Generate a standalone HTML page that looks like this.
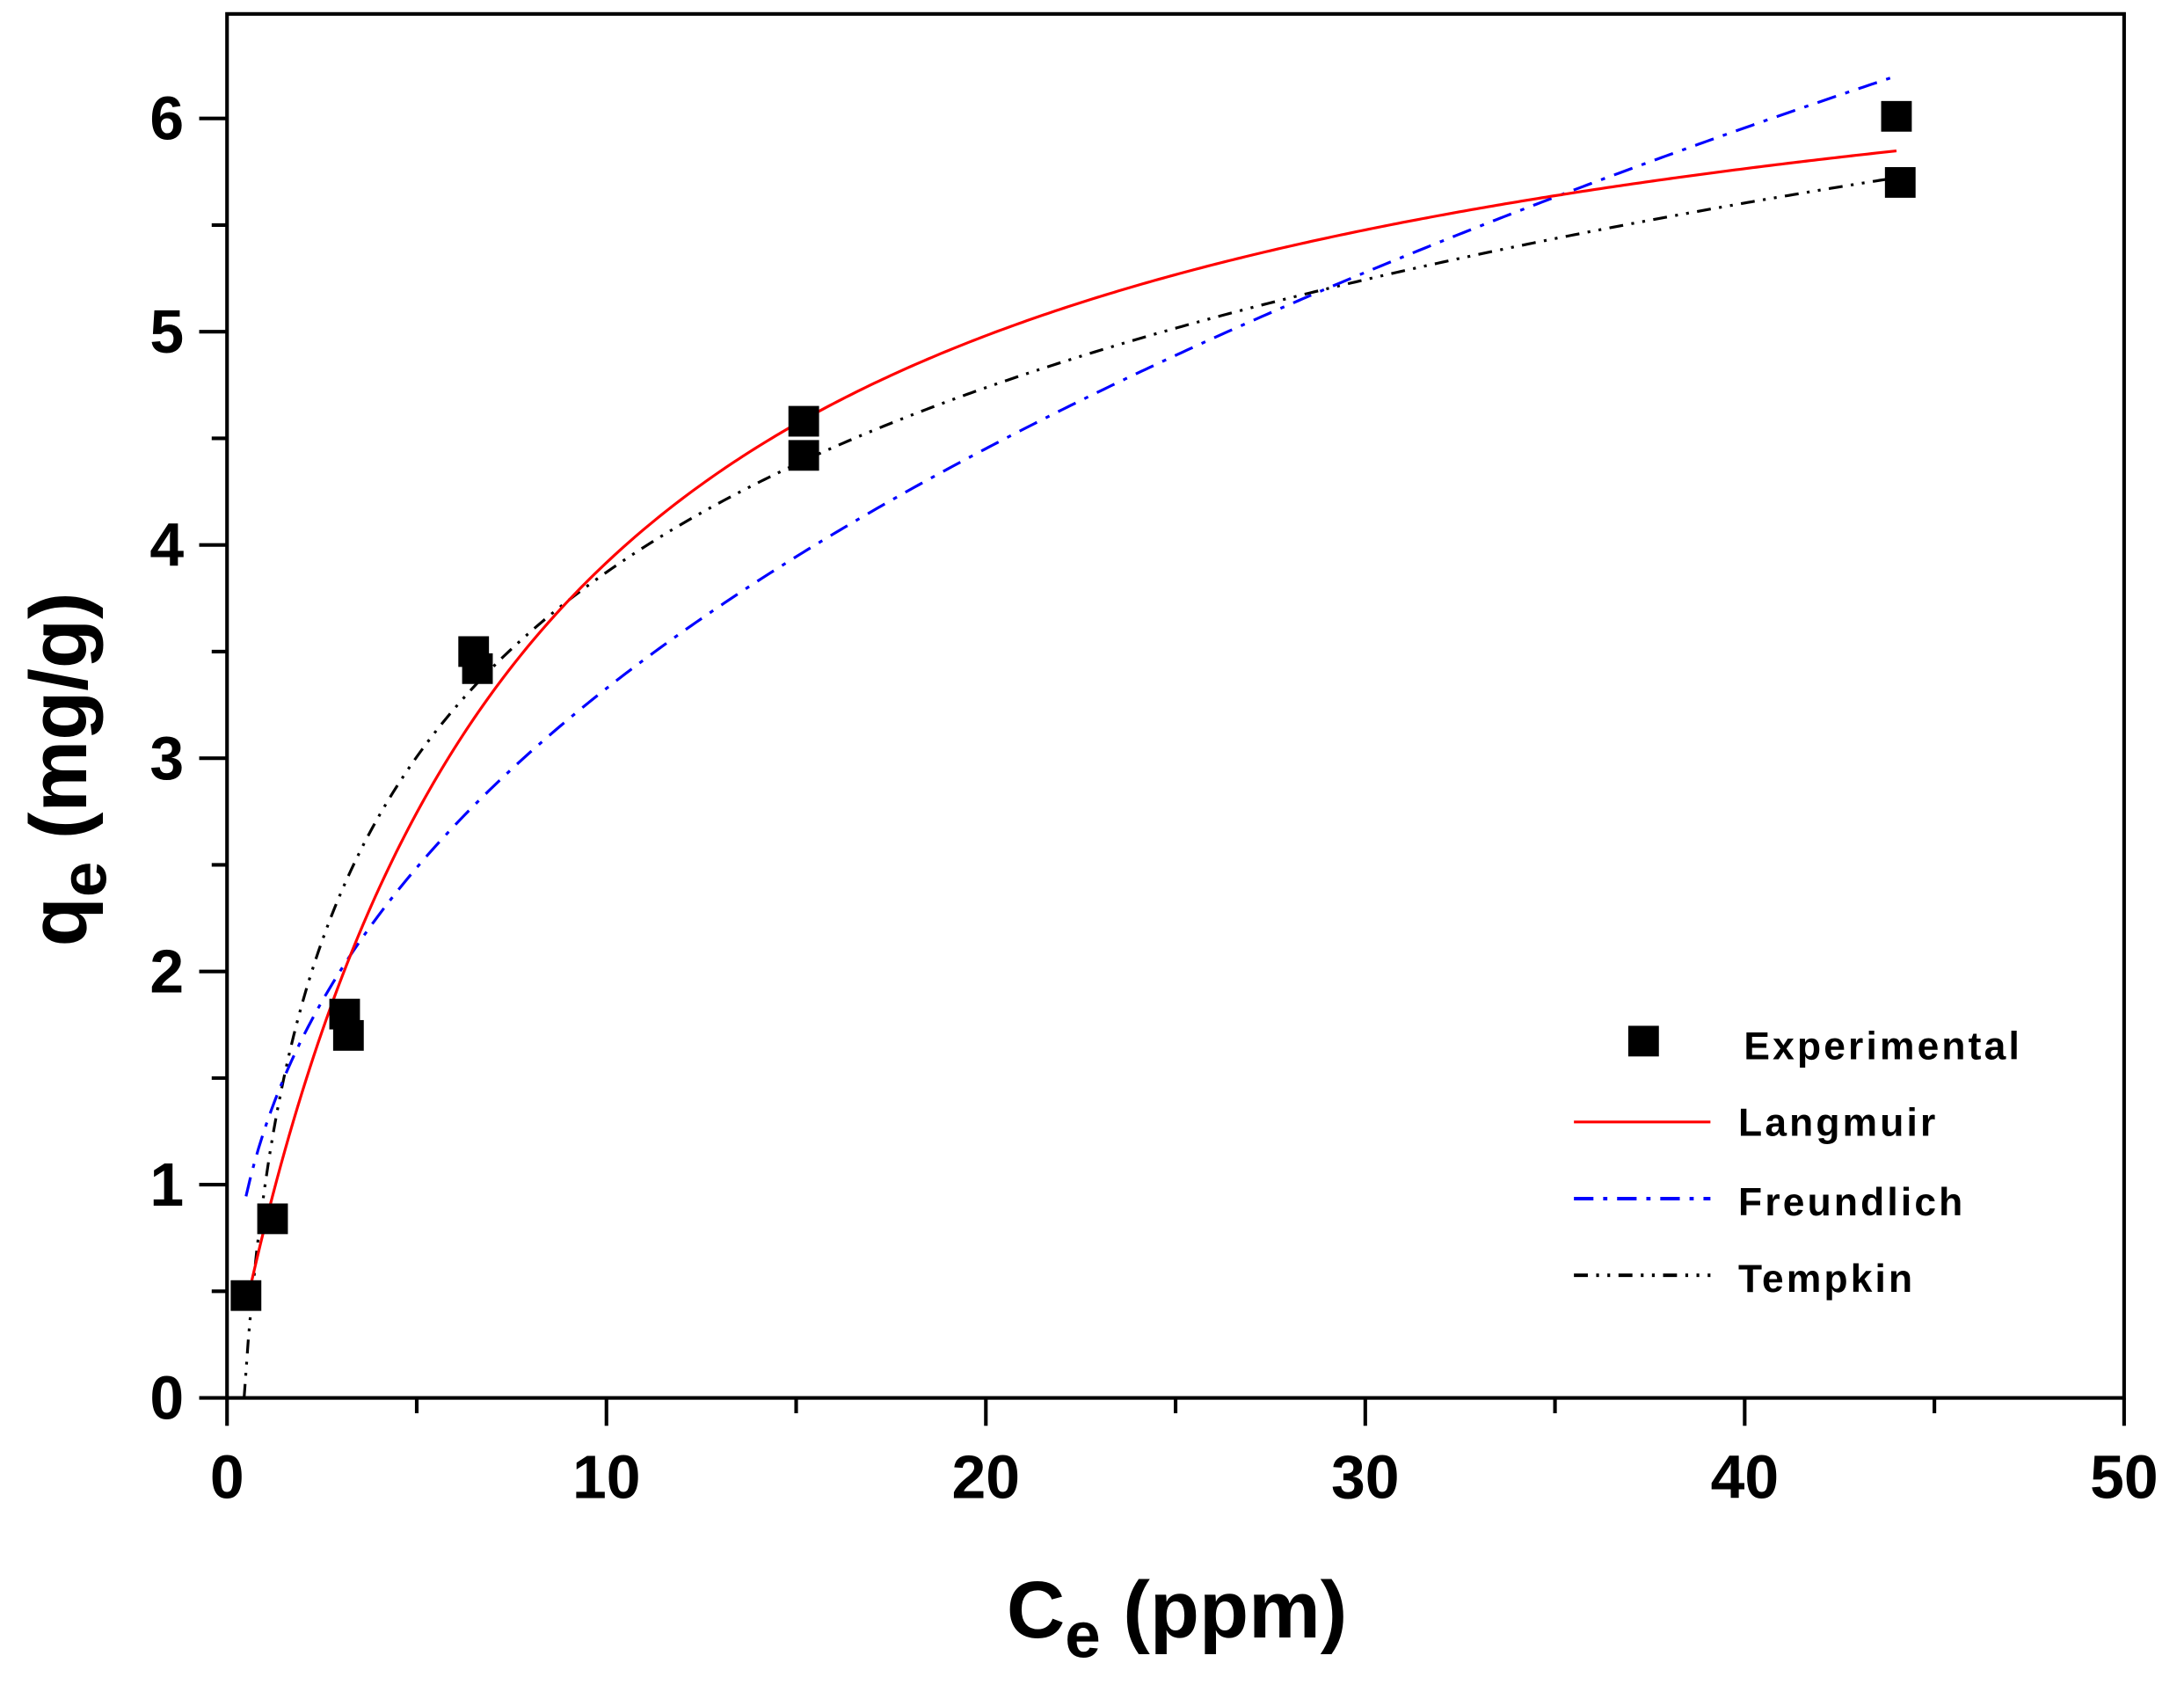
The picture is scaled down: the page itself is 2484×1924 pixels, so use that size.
<!DOCTYPE html>
<html><head><meta charset="utf-8"><style>
html,body{margin:0;padding:0;background:#fff;}
svg{display:block;}
text{font-family:"Liberation Sans",Arial,sans-serif;}
</style></head><body>
<svg id="s" width="2484" height="1924" viewBox="0 0 1568 1214" preserveAspectRatio="none" xmlns="http://www.w3.org/2000/svg">
<rect width="1568" height="1214" fill="#fff"/>
<g id="curves"></g>
<g id="axes" stroke="#000" stroke-width="2.6" fill="none">
<rect x="163" y="10" width="1362" height="993"/>
</g>
<g id="ticks" stroke="#000" stroke-width="2.6"></g>
<g id="pts" fill="#000"></g>
<g font-weight="bold" font-size="44" fill="#000" id="labels"></g>
<text x="0" y="0" font-weight="bold" font-size="58" transform="translate(62,552) rotate(-90)" text-anchor="middle">q<tspan font-size="46" dy="14">e</tspan><tspan dy="-14"> (mg/g)</tspan></text>
<text x="845" y="1175" font-weight="bold" font-size="58" text-anchor="middle">C<tspan font-size="46" dy="14">e</tspan><tspan dy="-14"> (ppm)</tspan></text>
<rect x="1169" y="736" width="22" height="22" fill="#000"/>
<text x="1252" y="760" font-size="28" font-weight="bold" letter-spacing="2">Experimental</text>
<line x1="1130" y1="805" x2="1228" y2="805" stroke="#f00" stroke-width="2"/>
<text x="1248" y="815" font-size="28" font-weight="bold" letter-spacing="2">Langmuir</text>
<line x1="1130" y1="860" x2="1228" y2="860" stroke="#00f" stroke-width="2.5" stroke-dasharray="14,7,3,7"/>
<text x="1248" y="872" font-size="28" font-weight="bold" letter-spacing="2">Freundlich</text>
<line x1="1130" y1="915" x2="1228" y2="915" stroke="#000" stroke-width="2.5" stroke-dasharray="10,6,2,6,2,6"/>
<text x="1248" y="927" font-size="28" font-weight="bold" letter-spacing="2">Tempkin</text>
</svg>
<script>
var X0=163,XU=(1525-163)/50,Y0=1003,YU=153;
function px(x){return X0+x*XU;} function py(y){return Y0-y*YU;}
var ns="http://www.w3.org/2000/svg";
function el(p,t,a){var e=document.createElementNS(ns,t);for(var k in a)e.setAttribute(k,a[k]);p.appendChild(e);return e;}
function path(f,a,b,attrs){var d="";for(var i=0;i<=400;i++){var x=a+(b-a)*i/400;var y=f(x);d+=(i?"L":"M")+px(x).toFixed(2)+","+py(Math.max(0,y)).toFixed(2);}attrs.d=d;attrs.fill="none";el(document.getElementById("curves"),"path",attrs);}
path(function(c){return 1.249*Math.log(2.22*c);},0.45,44,{stroke:"#000","stroke-width":2,"stroke-dasharray":"10,6,2,6,2,6"});
path(function(c){return 1.265*Math.pow(c,0.42);},0.5,44,{stroke:"#00f","stroke-width":2,"stroke-dasharray":"14,7,3,7"});
path(function(c){return 6.84*0.134*c/(1+0.134*c);},0.55,44,{stroke:"#f00","stroke-width":2});
var T=document.getElementById("ticks"),L=document.getElementById("labels");
for(var i=0;i<=10;i++){var x=px(i*5);var len=(i%2==0)?20:11;el(T,"line",{x1:x,y1:1003,x2:x,y2:1003+len});
 if(i%2==0){var t=el(L,"text",{x:x,y:1075,"text-anchor":"middle"});t.textContent=String(i*5);}}
for(var j=0;j<=12;j++){var y=py(j*0.5);if(y<10)continue;var len=(j%2==0)?20:11;el(T,"line",{x1:163,y1:y,x2:163-len,y2:y});
 if(j%2==0){var t=el(L,"text",{x:132,y:y+15,"text-anchor":"end"});t.textContent=String(j/2);}}
var P=[[0.5,0.48],[1.2,0.84],[3.1,1.8],[3.2,1.7],[6.5,3.5],[6.6,3.42],[15.2,4.58],[15.2,4.42],[44,6.01],[44.1,5.7]];
var G=document.getElementById("pts");
P.forEach(function(p){el(G,"rect",{x:px(p[0])-11,y:py(p[1])-11,width:22,height:22});});
</script>
</body></html>
